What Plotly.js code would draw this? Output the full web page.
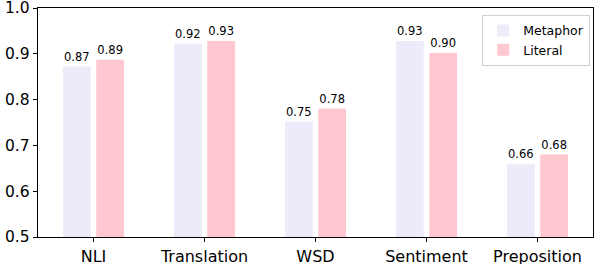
<!DOCTYPE html>
<html><head><meta charset="utf-8">
<script src="https://cdn.plot.ly/plotly-3.0.1.min.js"></script>
<style>body{margin:0;padding:0;background:#fff}#chart{width:598px;height:264px}</style>
</head><body><div id="chart"></div>
<script>
const categories = ["NLI", "Translation", "WSD", "Sentiment", "Preposition"];
const metaphor = [0.872, 0.922, 0.752, 0.928, 0.659];
const literal = [0.887, 0.928, 0.780, 0.902, 0.680];
const seriesNames = ["Metaphor", "Literal"];
const yTicks = [0.5, 0.6, 0.7, 0.8, 0.9, 1.0];

const font = {family: "DejaVu Sans", color: "#000"};
const traces = [
  {type: "bar", name: seriesNames[0], x: categories, y: metaphor, width: 0.25, offset: -0.275,
   marker: {color: "#EBEBFA"}, texttemplate: "%{y:.2f}", textposition: "outside",
   textfont: {family: "DejaVu Sans", size: 11.5, color: "#000"}, cliponaxis: false, hoverinfo: "none"},
  {type: "bar", name: seriesNames[1], x: categories, y: literal, width: 0.25, offset: 0.025,
   marker: {color: "#FFC8D0"}, texttemplate: "%{y:.2f}", textposition: "outside",
   textfont: {family: "DejaVu Sans", size: 11.5, color: "#000"}, cliponaxis: false, hoverinfo: "none"}
];
const layout = {
  width: 598, height: 264,
  margin: {l: 38, r: 5, t: 8, b: 27},
  paper_bgcolor: "#fff", plot_bgcolor: "#fff",
  barmode: "overlay",
  font: font,
  showlegend: true,
  legend: {x: 0.995, xanchor: "right", y: 0.97, yanchor: "top", bordercolor: "#d0d0d0", borderwidth: 1,
           bgcolor: "rgba(255,255,255,0.8)", font: {family: "DejaVu Sans", size: 12.5, color: "#000"},
           itemwidth: 30, tracegroupgap: 0},
  xaxis: {type: "category", range: [-0.5, 4.5], showline: true, linecolor: "#000", linewidth: 1.3, mirror: true,
          ticks: "outside", ticklen: 4, tickcolor: "#000", showgrid: false, zeroline: false,
          tickfont: {family: "DejaVu Sans", size: 16, color: "#000"}},
  yaxis: {range: [0.5, 1.0], tickvals: yTicks, ticktext: yTicks.map(v => v.toFixed(1)),
          showline: true, linecolor: "#000", linewidth: 1.3, mirror: true, ticklabeloverflow: "allow",
          ticks: "outside", ticklen: 4, tickcolor: "#000", showgrid: false, zeroline: false,
          tickfont: {family: "DejaVu Sans", size: 15.5, color: "#000"}}
};
Plotly.newPlot("chart", traces, layout, {displayModeBar: false, staticPlot: true});
</script></body></html>
